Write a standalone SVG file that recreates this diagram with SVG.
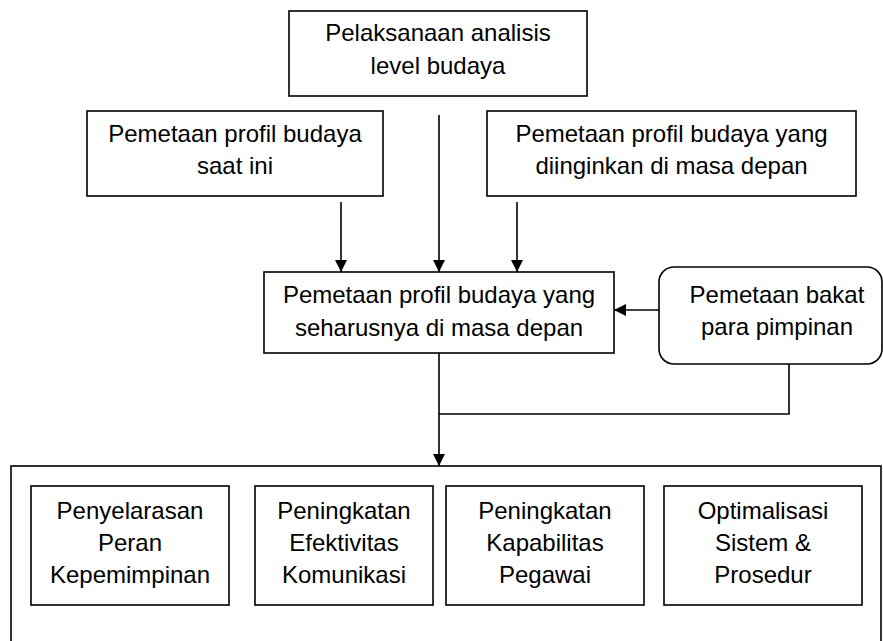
<svg xmlns="http://www.w3.org/2000/svg" width="883" height="641" viewBox="0 0 883 641">
<style>
.b{fill:#fff;stroke:#000;stroke-width:1.6}
.t{font-family:"Liberation Sans",Arial,sans-serif;font-size:24px;fill:#000;text-anchor:middle}
.c{fill:none;stroke:#000;stroke-width:1.6}
</style>
<defs>
<marker id="ah" viewBox="0 0 12 12" refX="12" refY="6" markerWidth="12" markerHeight="12" markerUnits="userSpaceOnUse" orient="auto">
<path d="M0,0 L12,6 L0,12 Z" fill="#000"/>
</marker>
</defs>
<rect width="883" height="641" fill="#fff"/>
<g id="outer"><rect class="b" x="11" y="466" width="870" height="220"/></g>
<g id="top"><rect class="b" x="289" y="11" width="298" height="85"/>
<text class="t" x="438" y="41">Pelaksanaan analisis</text>
<text class="t" x="438" y="74">level budaya</text></g>
<g id="current"><rect class="b" x="87" y="111" width="296" height="85"/>
<text class="t" x="235" y="142">Pemetaan profil budaya</text>
<text class="t" x="235" y="174">saat ini</text></g>
<g id="desired"><rect class="b" x="487" y="111" width="369" height="85"/>
<text class="t" x="671.5" y="142">Pemetaan profil budaya yang</text>
<text class="t" x="671.5" y="174">diinginkan di masa depan</text></g>
<g id="should"><rect class="b" x="264" y="272" width="350" height="81"/>
<text class="t" x="439" y="303">Pemetaan profil budaya yang</text>
<text class="t" x="439" y="336">seharusnya di masa depan</text></g>
<g id="talent"><rect class="b" x="659" y="267" width="223" height="97" rx="15" ry="15"/>
<text class="t" x="777" y="303">Pemetaan bakat</text>
<text class="t" x="777" y="335">para pimpinan</text></g>
<g id="box1"><rect class="b" x="31" y="486" width="198" height="119"/>
<text class="t" x="130" y="519">Penyelarasan</text>
<text class="t" x="130" y="551">Peran</text>
<text class="t" x="130" y="583">Kepemimpinan</text></g>
<g id="box2"><rect class="b" x="255" y="486" width="178" height="119"/>
<text class="t" x="344" y="519">Peningkatan</text>
<text class="t" x="344" y="551">Efektivitas</text>
<text class="t" x="344" y="583">Komunikasi</text></g>
<g id="box3"><rect class="b" x="446" y="486" width="198" height="119"/>
<text class="t" x="545" y="519">Peningkatan</text>
<text class="t" x="545" y="551">Kapabilitas</text>
<text class="t" x="545" y="583">Pegawai</text></g>
<g id="box4"><rect class="b" x="664" y="486" width="198" height="119"/>
<text class="t" x="763" y="519">Optimalisasi</text>
<text class="t" x="763" y="551">Sistem &amp;</text>
<text class="t" x="763" y="583">Prosedur</text></g>
<g id="connectors">
<line class="c" x1="341" y1="202" x2="341" y2="272" marker-end="url(#ah)"/>
<line class="c" x1="439" y1="115" x2="439" y2="272" marker-end="url(#ah)"/>
<line class="c" x1="517" y1="202" x2="517" y2="272" marker-end="url(#ah)"/>
<line class="c" x1="659" y1="310" x2="614" y2="310" marker-end="url(#ah)"/>
<line class="c" x1="439" y1="353" x2="439" y2="466" marker-end="url(#ah)"/>
<polyline class="c" points="789,364 789,414 439,414"/>
</g>
</svg>
